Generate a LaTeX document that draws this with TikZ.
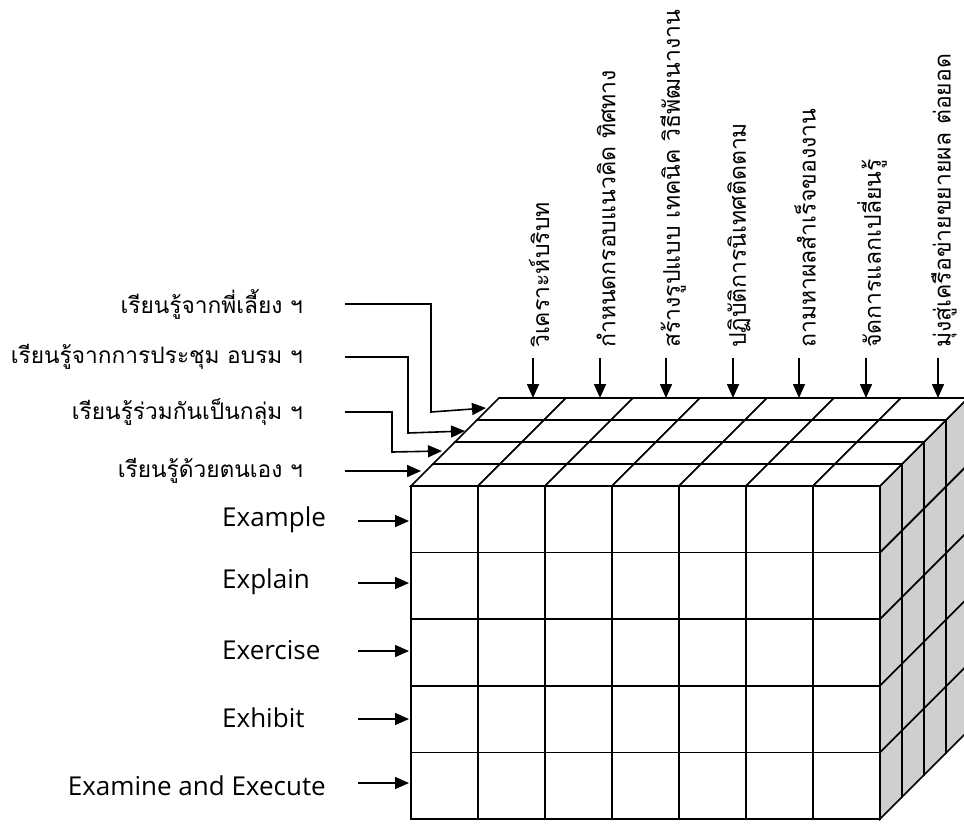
\documentclass[tikz,border=0pt]{standalone}
\usepackage{fontspec}
\setmainfont{Open Sans}
\newfontfamily\thaifont[Script=Thai]{Loma}
\usetikzlibrary{arrows.meta}
\definecolor{sidegrey}{RGB}{207,207,207}
\tikzset{
  gridline/.style={line width=1.6pt, draw=black, line join=miter},
  frontface/.style={gridline, fill=white},
  topface/.style={gridline, fill=white},
  sideface/.style={gridline, fill=sidegrey},
  arr/.style={line width=1.6pt, -{Triangle[length=14pt,width=12pt]}},
  thailabel/.style={inner sep=0pt, font=\thaifont\fontsize{22.7}{27}\selectfont},
  englabel/.style={inner sep=0pt, font=\fontsize{26}{30}\selectfont},
  toplabel/.style={inner sep=0pt, font=\thaifont\fontsize{23}{28}\selectfont, rotate=90, anchor=west},
}
\begin{document}
\begin{tikzpicture}[x=1pt,y=-1pt]
\useasboundingbox (0,0) rectangle (964,823);
% cube: front corner, cell width/height, depth step
\def\ox{411}\def\oy{486}\def\cw{67}\def\ch{66.6}\def\dd{22}

% right (shaded) face
\foreach \k in {0,...,3}{\foreach \j in {0,...,4}{
  \filldraw[sideface] ({\ox+7*\cw+\dd*\k},{\oy+\ch*\j-\dd*\k}) -- ++(0,\ch) -- ++(\dd,-\dd) -- ++(0,-\ch) -- cycle;
}}
% top face
\foreach \k in {0,...,3}{\foreach \i in {0,...,6}{
  \filldraw[topface] ({\ox+\cw*\i+\dd*\k},{\oy-\dd*\k}) -- ++(\cw,0) -- ++(\dd,-\dd) -- ++(-\cw,0) -- cycle;
}}
% front face
\foreach \i in {0,...,6}{\foreach \j in {0,...,4}{
  \filldraw[frontface] ({\ox+\cw*\i},{\oy+\ch*\j}) rectangle ++(\cw,\ch);
}}

% steps along the top
\foreach \n/\x in {1/533,2/600,3/666,4/733,5/799,6/866,7/938}{
  \coordinate (ts\n) at (\x,358);
  \coordinate (tt\n) at (\x,398);
}
\node[toplabel] (v1) at (539,348) {วิเคราะห์บริบท};
\node[toplabel] (v2) at (606,348) {กำหนดกรอบแนวคิด ทิศทาง};
\node[toplabel] (v3) at (673,348) {สร้างรูปแบบ เทคนิค วิธีพัฒนางาน};
\node[toplabel] (v4) at (739,348) {ปฏิบัติการนิเทศติดตาม};
\node[toplabel] (v5) at (805,348) {ถามหาผลสำเร็จของงาน};
\node[toplabel] (v6) at (872,348) {จัดการแลกเปลี่ยนรู้};
\node[toplabel] (v7) at (944,348) {มุ่งสู่เครือข่ายขยายผล ต่อยอด};
\foreach \n in {1,...,7}{\draw[arr] (ts\n) -- (tt\n);}

% ways of learning, entering the layers
\node[thailabel, anchor=east] (l1) at (303,304) {เรียนรู้จากพี่เลี้ยง ฯ};
\node[thailabel, anchor=east] (l2) at (303,357) {เรียนรู้จากการประชุม อบรม ฯ};
\node[thailabel, anchor=east] (l3) at (303,412) {เรียนรู้ร่วมกันเป็นกลุ่ม ฯ};
\node[thailabel, anchor=east] (l4) at (303,471) {เรียนรู้ด้วยตนเอง ฯ};
\coordinate (k1) at (431,412); \coordinate (p1) at (486,408);
\coordinate (k2) at (408,433); \coordinate (p2) at (465,431);
\coordinate (k3) at (392,452); \coordinate (p3) at (442,451);
\coordinate (p4) at (421,471);
\draw[arr] ([xshift=42pt]l1.east) -| (k1) -- (p1);
\draw[arr] ([xshift=42pt]l2.east) -| (k2) -- (p2);
\draw[arr] ([xshift=42pt]l3.east) -| (k3) -- (p3);
\draw[arr] ([xshift=42pt]l4.east) -- (p4);

% the five E rows
\node[englabel, anchor=west] (e1) at (222,520) {Example};
\node[englabel, anchor=west] (e2) at (222,582) {Explain};
\node[englabel, anchor=west] (e3) at (222,650) {Exercise};
\node[englabel, anchor=west] (e4) at (222,718) {Exhibit};
\node[englabel, anchor=east] (e5) at (326,786) {Examine and Execute};
\foreach \n/\y in {1/521,2/583,3/651,4/719,5/783}{
  \coordinate (ea\n) at (358,\y);
  \coordinate (eb\n) at (409,\y);
  \draw[arr] (ea\n) -- (eb\n);
}
\end{tikzpicture}
\end{document}
